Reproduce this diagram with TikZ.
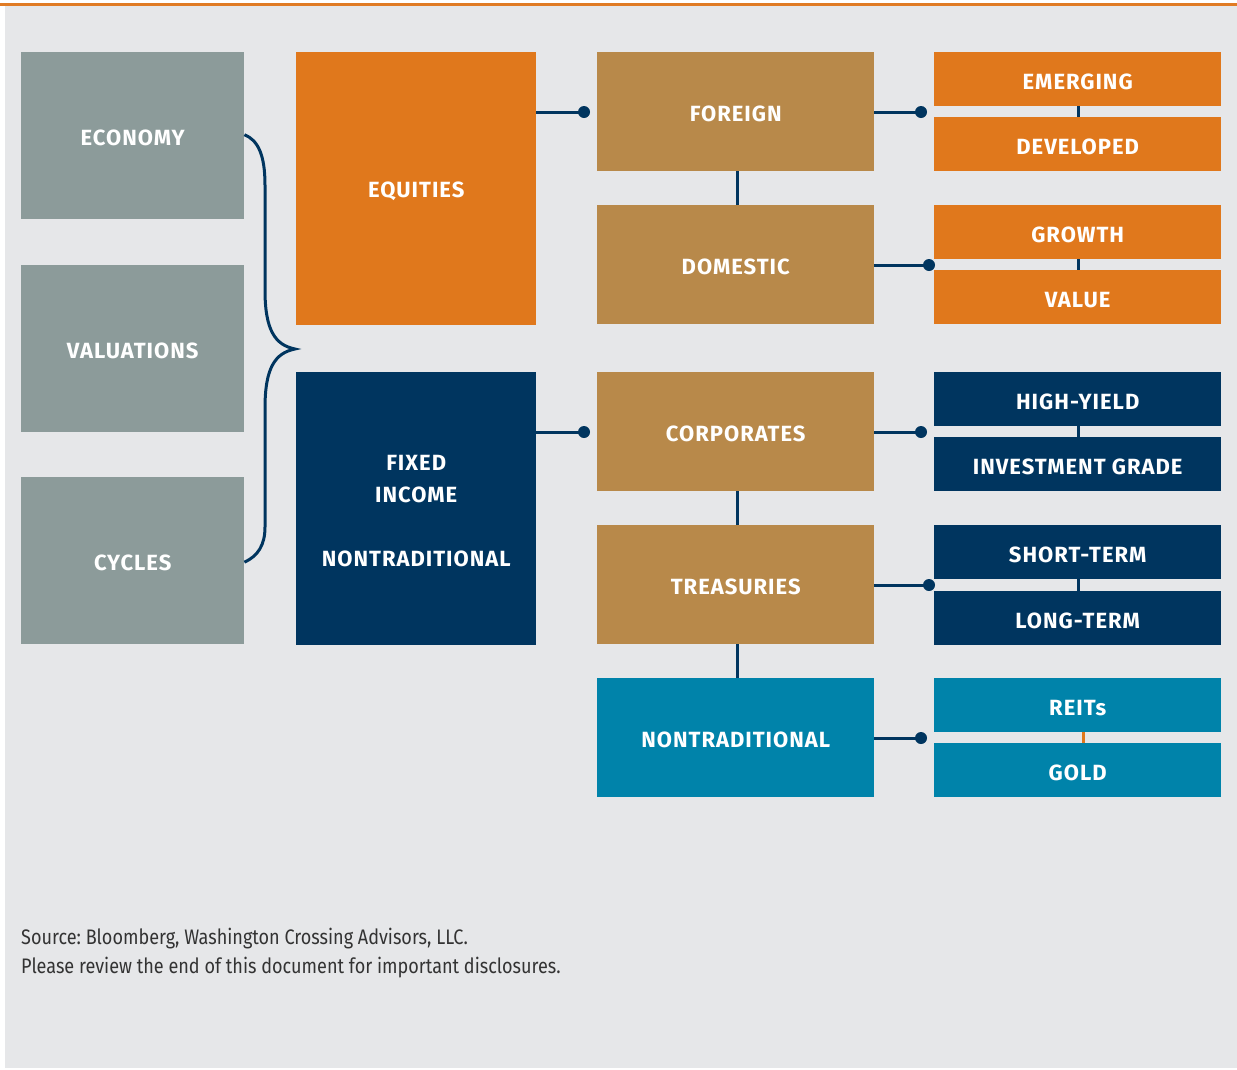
\documentclass[tikz,border=0pt]{standalone}
\usepackage{fontspec}
\setmainfont{Fira Sans}
\newfontfamily\boxfont[LetterSpace=4.5]{Fira Sans}
\newfontfamily\srcfont[FakeStretch=0.86]{Fira Sans}
\definecolor{bgc}{HTML}{E6E7E9}
\definecolor{topline}{HTML}{E07B24}
\definecolor{slate}{HTML}{8C9B9A}
\definecolor{orng}{HTML}{E0781C}
\definecolor{tan}{HTML}{B8894A}
\definecolor{navy}{HTML}{00355F}
\definecolor{teal}{HTML}{0083AA}
\definecolor{txt}{HTML}{333333}
\begin{document}
\begin{tikzpicture}[x=1pt,y=-1pt,
  blk/.style={anchor=north west, inner sep=0pt},
  lbl/.style={text=white, align=center, inner sep=0pt, yshift=-2.5pt,
    font=\boxfont\bfseries\fontsize{22}{32}\selectfont},
  conn/.style={draw=navy, line width=3pt},
  dotc/.style={fill=navy},
  link/.style={draw=navy, line width=2.6pt},
  linko/.style={draw=orng, line width=2.6pt}]
\useasboundingbox (0,0) rectangle (1237,1069);
\fill[white] (0,0) rectangle (1237,1069);
\fill[bgc] (5,6) rectangle (1237,1068);
\draw[topline, line width=2.4pt] (0,4.5) -- (1237,4.5);

% left column
\node[blk, fill=slate, minimum width=223pt, minimum height=167pt, label={[lbl]center:ECONOMY}] (economy) at (21,52) {};
\node[blk, fill=slate, minimum width=223pt, minimum height=167pt, label={[lbl]center:VALUATIONS}] (valuations) at (21,265) {};
\node[blk, fill=slate, minimum width=223pt, minimum height=167pt, label={[lbl]center:CYCLES}] (cycles) at (21,477) {};

% second column
\node[blk, fill=orng, minimum width=240pt, minimum height=273pt, label={[lbl]center:EQUITIES}] (equities) at (296,52) {};
\node[blk, fill=navy, minimum width=240pt, minimum height=273pt, label={[lbl]center:{FIXED\\INCOME\\[32pt]NONTRADITIONAL}}] (fixed) at (296,372) {};

% middle column
\node[blk, fill=tan, minimum width=277pt, minimum height=119pt, label={[lbl]center:FOREIGN}] (foreign) at (597,52) {};
\node[blk, fill=tan, minimum width=277pt, minimum height=119pt, label={[lbl]center:DOMESTIC}] (domestic) at (597,205) {};
\node[blk, fill=tan, minimum width=277pt, minimum height=119pt, label={[lbl]center:CORPORATES}] (corporates) at (597,372) {};
\node[blk, fill=tan, minimum width=277pt, minimum height=119pt, label={[lbl]center:TREASURIES}] (treasuries) at (597,525) {};
\node[blk, fill=teal, minimum width=277pt, minimum height=119pt, label={[lbl]center:NONTRADITIONAL}] (nontrad) at (597,678) {};

% right column
\node[blk, fill=orng, minimum width=287pt, minimum height=54pt, label={[lbl]center:EMERGING}] (emerging) at (934,52) {};
\node[blk, fill=orng, minimum width=287pt, minimum height=54pt, label={[lbl]center:DEVELOPED}] (developed) at (934,117) {};
\node[blk, fill=orng, minimum width=287pt, minimum height=54pt, label={[lbl]center:GROWTH}] (growth) at (934,205) {};
\node[blk, fill=orng, minimum width=287pt, minimum height=54pt, label={[lbl]center:VALUE}] (value) at (934,270) {};
\node[blk, fill=navy, minimum width=287pt, minimum height=54pt, label={[lbl]center:HIGH-YIELD}] (highyield) at (934,372) {};
\node[blk, fill=navy, minimum width=287pt, minimum height=54pt, label={[lbl]center:INVESTMENT GRADE}] (invgrade) at (934,437) {};
\node[blk, fill=navy, minimum width=287pt, minimum height=54pt, label={[lbl]center:SHORT-TERM}] (shortterm) at (934,525) {};
\node[blk, fill=navy, minimum width=287pt, minimum height=54pt, label={[lbl]center:LONG-TERM}] (longterm) at (934,591) {};
\node[blk, fill=teal, minimum width=287pt, minimum height=54pt, label={[lbl]center:REITs}] (reits) at (934,678) {};
\node[blk, fill=teal, minimum width=287pt, minimum height=54pt, label={[lbl]center:GOLD}] (gold) at (934,743) {};

% dot coordinates
\coordinate (d1) at (584,112);
\coordinate (d2) at (584,432);
\coordinate (d3) at (921,112);
\coordinate (d4) at (929,265);
\coordinate (d5) at (921,432);
\coordinate (d6) at (929,585);
\coordinate (d7) at (921,738);

\draw[conn] (equities.east |- d1) -- (d1);
\draw[conn] (fixed.east |- d2) -- (d2);
\draw[conn] (foreign.east |- d3) -- (d3);
\draw[conn] (domestic.east |- d4) -- (d4);
\draw[conn] (corporates.east |- d5) -- (d5);
\draw[conn] (treasuries.east |- d6) -- (d6);
\draw[conn] (nontrad.east |- d7) -- (d7);
\foreach \d in {d1,d2,d3,d4,d5,d6,d7} \fill[dotc] (\d) circle (6pt);

% vertical links in middle column
\draw[link] ([xshift=1.5pt]foreign.south) -- ([xshift=1.5pt]domestic.north);
\draw[link] ([xshift=1.5pt]corporates.south) -- ([xshift=1.5pt]treasuries.north);
\draw[link] ([xshift=1.5pt]treasuries.south) -- ([xshift=1.5pt]nontrad.north);

% small links in right column
\draw[link] ([xshift=0.5pt]emerging.south) -- ([xshift=0.5pt]developed.north);
\draw[link] ([xshift=0.5pt]growth.south) -- ([xshift=0.5pt]value.north);
\draw[link] ([xshift=0.5pt]highyield.south) -- ([xshift=0.5pt]invgrade.north);
\draw[link] ([xshift=0.5pt]shortterm.south) -- ([xshift=0.5pt]longterm.north);
\draw[linko] ([xshift=6pt]reits.south) -- ([xshift=6pt]gold.north);

% brace
\draw[navy, line width=3pt] ([yshift=1pt]economy.east) .. controls (258,140) and (265,155) .. (265,185)
  -- (265,290) .. controls (265,330) and (275,345) .. (295,349)
  .. controls (275,353) and (265,368) .. (265,408)
  -- (265,527) .. controls (265,545) and (258,556) .. ([yshift=-1.5pt]cycles.east);

% source
\node[anchor=north west, inner sep=0pt, align=left, text=txt,
  font=\srcfont\frenchspacing\fontsize{21}{29}\selectfont] (src) at (21,928)
  {Source: Bloomberg, Washington Crossing Advisors, LLC.\\Please review the end of this document for important disclosures.};
\end{tikzpicture}
\end{document}
